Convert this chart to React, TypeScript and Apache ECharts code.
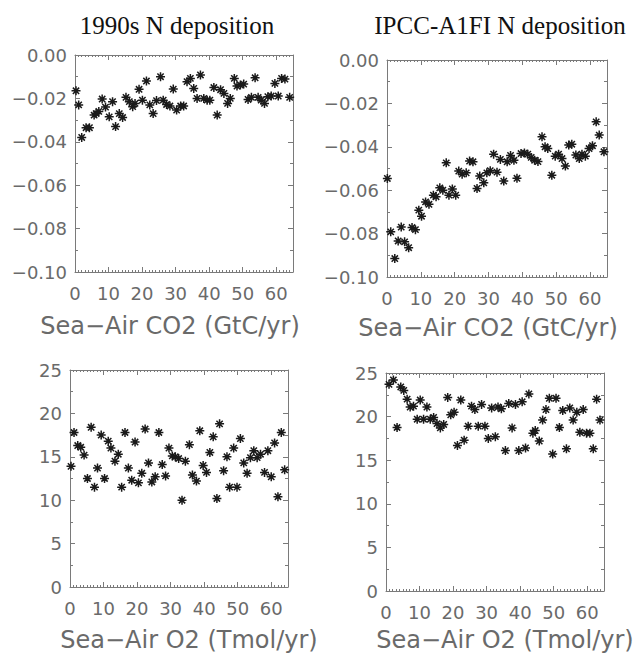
import React, { useEffect, useRef } from "react";
import * as echarts from "echarts";

// Panel titles and axis titles
const columnTitles = ["1990s N deposition", "IPCC-A1FI N deposition"];
const co2AxisTitle = "Sea\u2212Air CO2 (GtC/yr)";
const o2AxisTitle = "Sea\u2212Air O2 (Tmol/yr)";

// Top-left: 1990s, Sea-Air CO2
const x1990Co2 = [0.3, 1.1, 2.0, 3.3, 4.3, 5.7, 6.3, 7.1, 8.1, 9.1, 10.2, 11.2, 12.1, 13.2, 14.2, 15.2, 16.2, 17.2, 17.9, 19.1, 20.1, 21.3, 22.3, 23.3, 24.3, 25.5, 26.3, 27.3, 28.3, 29.3, 30.3, 31.5, 32.4, 33.4, 34.4, 35.4, 36.4, 37.4, 38.4, 39.4, 40.2, 41.4, 42.4, 43.4, 44.4, 45.5, 46.3, 47.5, 48.3, 49.3, 50.3, 51.6, 52.6, 53.7, 54.6, 55.5, 56.5, 57.5, 58.5, 59.6, 60.6, 61.6, 62.6, 64.0];
const y1990Co2 = [-0.0165, -0.023, -0.038, -0.0335, -0.0335, -0.0277, -0.027, -0.026, -0.0203, -0.024, -0.0285, -0.0215, -0.033, -0.027, -0.0288, -0.0195, -0.0215, -0.0238, -0.0223, -0.0158, -0.0208, -0.012, -0.023, -0.027, -0.021, -0.010, -0.0208, -0.0228, -0.0235, -0.0157, -0.0254, -0.0235, -0.0235, -0.0123, -0.0108, -0.0154, -0.020, -0.0092, -0.020, -0.0208, -0.0208, -0.015, -0.0277, -0.016, -0.0177, -0.0223, -0.020, -0.0108, -0.0143, -0.0138, -0.0134, -0.0205, -0.0195, -0.0105, -0.0195, -0.0208, -0.0223, -0.0192, -0.0189, -0.0131, -0.0189, -0.0108, -0.0111, -0.0195];

// Top-right: IPCC-A1FI, Sea-Air CO2
const xA1fiCo2 = [0.1, 1.1, 2.3, 3.3, 4.2, 5.2, 6.4, 7.4, 8.4, 9.4, 10.2, 11.4, 12.4, 13.7, 14.5, 15.6, 16.5, 17.5, 18.3, 19.3, 20.3, 21.2, 22.2, 23.4, 24.4, 25.4, 26.6, 27.4, 28.6, 29.5, 30.5, 31.5, 32.5, 33.5, 34.5, 35.5, 36.5, 37.5, 38.4, 39.6, 40.6, 41.6, 42.6, 43.6, 44.6, 45.8, 46.7, 47.5, 48.7, 49.7, 50.7, 51.7, 52.7, 53.7, 54.6, 55.8, 56.8, 57.6, 58.6, 59.7, 60.7, 61.8, 62.7, 64.1];
const yA1fiCo2 = [-0.0546, -0.0792, -0.0915, -0.0834, -0.077, -0.0838, -0.0865, -0.0772, -0.0782, -0.0692, -0.072, -0.0654, -0.0665, -0.0623, -0.063, -0.0589, -0.060, -0.0474, -0.0623, -0.0594, -0.0623, -0.0512, -0.0526, -0.052, -0.0466, -0.0469, -0.0592, -0.0535, -0.0566, -0.052, -0.051, -0.0434, -0.0517, -0.0458, -0.0558, -0.0469, -0.044, -0.0462, -0.0545, -0.0431, -0.0428, -0.0434, -0.0449, -0.0462, -0.0468, -0.0354, -0.040, -0.0408, -0.0531, -0.0443, -0.0434, -0.0454, -0.0489, -0.0392, -0.0388, -0.0438, -0.0454, -0.0434, -0.0443, -0.0408, -0.0395, -0.0285, -0.0346, -0.0423];

// Bottom-left: 1990s, Sea-Air O2
const x1990O2 = [0.3, 1.2, 2.3, 3.2, 4.2, 5.2, 6.3, 7.3, 8.2, 9.3, 10.3, 11.4, 12.2, 13.4, 14.4, 15.4, 16.4, 17.4, 18.4, 19.4, 20.4, 21.4, 22.4, 23.4, 24.4, 25.4, 26.5, 27.5, 28.5, 29.5, 30.5, 31.4, 32.4, 33.4, 34.4, 35.6, 36.5, 37.7, 38.7, 39.7, 40.7, 41.7, 42.7, 43.8, 44.6, 45.8, 46.8, 47.6, 48.8, 49.8, 50.8, 51.8, 52.8, 53.8, 54.8, 55.8, 56.8, 58.0, 59.0, 60.0, 61.0, 62.0, 63.0, 64.0];
const y1990O2 = [13.9, 17.8, 16.3, 16.1, 15.2, 12.5, 18.4, 11.5, 13.7, 17.5, 12.5, 16.8, 16.0, 14.5, 15.3, 11.5, 17.8, 13.7, 12.3, 16.7, 12.0, 13.1, 18.2, 14.3, 12.1, 12.7, 17.8, 14.1, 12.8, 16.0, 15.1, 15.0, 14.8, 10.0, 14.5, 16.4, 12.9, 12.2, 18.0, 14.0, 13.2, 15.5, 17.3, 10.2, 18.8, 13.4, 15.0, 11.5, 16.0, 11.5, 17.1, 14.3, 13.1, 14.9, 15.7, 14.9, 15.3, 13.2, 15.7, 12.7, 16.6, 10.4, 17.8, 13.5];

// Bottom-right: IPCC-A1FI, Sea-Air O2
const xA1fiO2 = [0.9, 2.2, 3.3, 4.4, 5.3, 6.3, 7.2, 8.2, 9.3, 10.2, 11.2, 12.2, 13.2, 14.2, 15.2, 16.2, 17.2, 18.4, 19.3, 20.3, 21.3, 22.3, 23.3, 24.5, 25.5, 26.5, 27.5, 28.5, 29.5, 30.5, 31.5, 32.6, 33.4, 34.4, 35.6, 36.6, 37.6, 38.6, 39.6, 40.6, 41.6, 42.6, 43.8, 44.5, 45.7, 46.7, 47.7, 48.7, 49.7, 50.7, 51.7, 52.7, 53.8, 54.8, 55.8, 56.9, 57.8, 58.8, 59.8, 60.8, 61.8, 62.8, 63.8];
const yA1fiO2 = [23.7, 24.2, 18.75, 23.4, 23.0, 22.0, 21.1, 21.2, 19.7, 21.9, 19.7, 21.1, 19.7, 19.9, 19.2, 18.7, 19.1, 22.2, 20.2, 20.5, 16.7, 21.9, 17.3, 18.9, 21.2, 20.8, 18.9, 21.4, 18.9, 17.5, 21.0, 17.7, 21.1, 20.9, 16.1, 21.5, 18.7, 21.4, 16.1, 21.7, 16.4, 22.6, 18.1, 18.4, 17.2, 19.6, 20.8, 22.1, 15.7, 22.1, 18.75, 20.7, 16.3, 21.0, 19.6, 20.5, 18.2, 20.8, 18.1, 18.1, 16.3, 22.0, 19.6];

const co2Ticks = { min: -0.1, max: 0, interval: 0.02 };
const o2Ticks = { min: 0, max: 25, interval: 5 };
const xTicks = { min: 0, max: 65, interval: 10 };

const ASTERISK = "path://M0,5L10,5M5,0L5,10M1.5,1.5L8.5,8.5M8.5,1.5L1.5,8.5";

export default function App() {
  const ref = useRef<HTMLDivElement>(null);

  useEffect(() => {
    if (!ref.current) return;
    const chart = echarts.init(ref.current, undefined, { renderer: "svg" });

    const panels = [
      { xs: x1990Co2, ys: y1990Co2, grid: { left: 75, top: 55, width: 218, height: 217 }, yr: co2Ticks, dec: 2 },
      { xs: xA1fiCo2, ys: yA1fiCo2, grid: { left: 387, top: 60, width: 220, height: 217 }, yr: co2Ticks, dec: 2 },
      { xs: x1990O2, ys: y1990O2, grid: { left: 70, top: 370, width: 218, height: 217 }, yr: o2Ticks, dec: 0 },
      { xs: xA1fiO2, ys: yA1fiO2, grid: { left: 386, top: 373, width: 218, height: 218 }, yr: o2Ticks, dec: 0 },
    ];

    const axisColor = "#7a7a7a";
    const labelColor = "#6a6a6a";
    const tickFont = "DejaVu Sans";

    const grids: any[] = [];
    const xAxes: any[] = [];
    const yAxes: any[] = [];
    const series: any[] = [];

    panels.forEach((p, i) => {
      grids.push({ ...p.grid, containLabel: false });
      const baseX = {
        type: "value",
        gridIndex: i,
        min: xTicks.min,
        max: xTicks.max,
        interval: xTicks.interval,
        splitLine: { show: false },
        axisLine: { show: true, onZero: false, lineStyle: { color: axisColor, width: 1 } },
        axisTick: { show: true, inside: true, length: 5, lineStyle: { color: axisColor } },
        minorTick: { show: true, splitNumber: 10, length: 2, lineStyle: { color: axisColor } },
        minorSplitLine: { show: false },
      };
      xAxes.push({
        ...baseX,
        position: "bottom",
        axisLabel: {
          show: true,
          margin: 12,
          color: labelColor,
          fontFamily: tickFont,
          fontSize: 18,
          showMaxLabel: false,
          formatter: (v: number) => String(Math.round(v)),
        },
      });
      xAxes.push({ ...baseX, position: "top", axisLabel: { show: false } });

      const baseY = {
        type: "value",
        gridIndex: i,
        min: p.yr.min,
        max: p.yr.max,
        interval: p.yr.interval,
        splitLine: { show: false },
        axisLine: { show: true, onZero: false, lineStyle: { color: axisColor, width: 1 } },
        axisTick: { show: true, inside: true, length: 5, lineStyle: { color: axisColor } },
        minorTick: { show: true, splitNumber: 2, length: 3, lineStyle: { color: axisColor } },
        minorSplitLine: { show: false },
      };
      yAxes.push({
        ...baseY,
        position: "left",
        axisLabel: {
          show: true,
          margin: 8,
          color: labelColor,
          fontFamily: tickFont,
          fontSize: 18,
          formatter: (v: number) => v.toFixed(p.dec).replace("-", "\u2212"),
        },
      });
      yAxes.push({ ...baseY, position: "right", axisLabel: { show: false } });

      series.push({
        type: "scatter",
        xAxisIndex: 2 * i,
        yAxisIndex: 2 * i,
        data: p.xs.map((x, k) => [x, p.ys[k]]),
        symbol: ASTERISK,
        symbolSize: 9,
        itemStyle: { color: "transparent", borderColor: "#1a1a1a", borderWidth: 1.5, opacity: 1 },
        emphasis: { disabled: true },
      });
    });

    const titleStyle = { fontFamily: "Liberation Serif", fontSize: 25, fill: "#111" };
    const axisTitleStyle = { fontFamily: tickFont, fontSize: 24, fill: labelColor };

    const graphic = [
      { type: "text", x: 177, y: 25, style: { text: columnTitles[0], ...titleStyle, textAlign: "center", textVerticalAlign: "middle" } },
      { type: "text", x: 500, y: 25, style: { text: columnTitles[1], ...titleStyle, textAlign: "center", textVerticalAlign: "middle" } },
      { type: "text", x: 170, y: 326, style: { text: co2AxisTitle, ...axisTitleStyle, textAlign: "center", textVerticalAlign: "middle" } },
      { type: "text", x: 488, y: 328, style: { text: co2AxisTitle, ...axisTitleStyle, textAlign: "center", textVerticalAlign: "middle" } },
      { type: "text", x: 189, y: 640, style: { text: o2AxisTitle, ...axisTitleStyle, textAlign: "center", textVerticalAlign: "middle" } },
      { type: "text", x: 505, y: 640, style: { text: o2AxisTitle, ...axisTitleStyle, textAlign: "center", textVerticalAlign: "middle" } },
    ];

    chart.setOption({
      animation: false,
      backgroundColor: "#ffffff",
      grid: grids,
      xAxis: xAxes,
      yAxis: yAxes,
      series,
      graphic,
    });

    return () => chart.dispose();
  }, []);

  return (
    <div
      ref={ref}
      style={{ position: "fixed", left: 0, top: 0, width: 635, height: 656, background: "#fff" }}
    />
  );
}
